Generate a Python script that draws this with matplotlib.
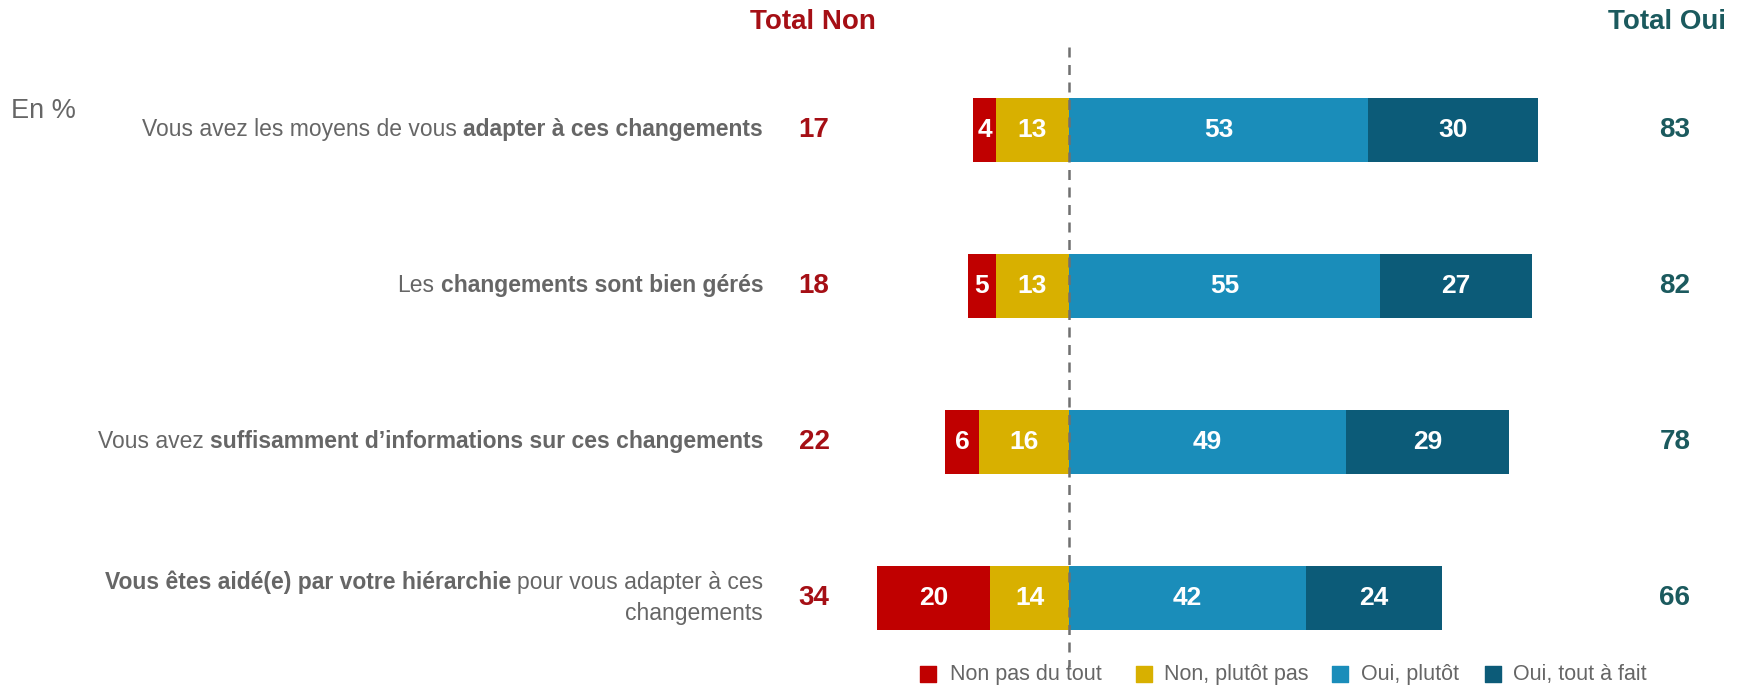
import matplotlib
matplotlib.use("Agg")
import matplotlib.pyplot as plt
import numpy as np

# ---------------- data ----------------
label_parts = [
    [("Vous avez les moyens de vous", False), ("adapter à ces changements", True)],
    [("Les", False), ("changements sont bien gérés", True)],
    [("Vous avez", False), ("suffisamment d\u2019informations sur ces changements", True)],
    [("Vous êtes aidé(e) par votre hiérarchie", True), ("pour vous adapter à ces", False)],
]
label_second_line = ["", "", "", "changements"]
non_pas_du_tout = [4, 5, 6, 20]
non_plutot_pas = [13, 13, 16, 14]
oui_plutot = [53, 55, 49, 42]
oui_tout_a_fait = [30, 27, 29, 24]
total_non = [17, 18, 22, 34]
total_oui = [83, 82, 78, 66]
legend_labels = ["Non pas du tout", "Non, plutôt pas", "Oui, plutôt", "Oui, tout à fait"]

# ---------------- style ----------------
FAM = ["Liberation Sans", "DejaVu Sans"]
plt.rcParams["font.family"] = FAM
C_RED = "#C00000"
C_YEL = "#D8B000"
C_BLUE = "#1A8DBA"
C_DARK = "#0C5B78"
C_GRAY = "#666666"
C_NON = "#A50F15"
C_OUI = "#1B5A5E"

fig = plt.figure(figsize=(17.46, 6.91), dpi=100)
ax = fig.add_axes([0, 0, 1, 1])
ax.set_xlim(-189.4, 119.9)
ax.set_ylim(3.596, -0.833)
ax.axis("off")

y = np.arange(len(non_pas_du_tout))
h = 0.41
npd = np.array(non_pas_du_tout)
npp = np.array(non_plutot_pas)
op = np.array(oui_plutot)
ot = np.array(oui_tout_a_fait)

ax.barh(y, npd, left=-(npd + npp), height=h, color=C_RED, zorder=2)
ax.barh(y, npp, left=-npp, height=h, color=C_YEL, zorder=2)
ax.barh(y, op, left=0, height=h, color=C_BLUE, zorder=2)
ax.barh(y, ot, left=op, height=h, color=C_DARK, zorder=2)

seg_fs = 19
for i in range(len(y)):
    segs = [(-(npd[i] + npp[i]), npd[i]), (-npp[i], npp[i]), (0, op[i]), (op[i], ot[i])]
    for left, w in segs:
        ax.text(left + w / 2, y[i], f"{w}", ha="center", va="center", color="white",
                fontsize=seg_fs, fontweight="bold", zorder=3)
    ax.text(-45.2, y[i], f"{total_non[i]}", ha="center", va="center", color=C_NON,
            fontsize=20, fontweight="bold")
    ax.text(107.3, y[i], f"{total_oui[i]}", ha="center", va="center", color=C_OUI,
            fontsize=20, fontweight="bold")

# center dashed line
ax.plot([0, 0], [-0.53, 3.44], color="#707070", lw=1.8, ls=(0, (4, 3)), zorder=4)

# headers
ax.text(-45.4, -0.69, "Total Non", ha="center", va="center", color=C_NON,
        fontsize=20, fontweight="bold")
ax.text(105.9, -0.69, "Total Oui", ha="center", va="center", color=C_OUI,
        fontsize=20, fontweight="bold")
ax.text(-187.4, -0.12, "En %", ha="left", va="center", color=C_GRAY, fontsize=19.5)

# category labels with mixed bold
lab_fs = 16.5
x_lab = -54.2


def mixed(xr, yy, parts):
    prev = None
    for text, bold in reversed(parts):
        fw = "bold" if bold else "normal"
        if prev is None:
            t = ax.text(xr, yy, text, ha="right", va="center", color=C_GRAY,
                        fontsize=lab_fs, fontweight=fw)
        else:
            t = ax.annotate(text, xy=(0, 0.5), xycoords=prev, xytext=(-4.5, 0),
                            textcoords="offset points", ha="right", va="center",
                            color=C_GRAY, fontsize=lab_fs, fontweight=fw)
        prev = t


for i in range(len(y)):
    if label_second_line[i]:
        mixed(x_lab, y[i] - 0.1, label_parts[i])
        ax.text(x_lab, y[i] + 0.1, label_second_line[i], ha="right", va="center",
                color=C_GRAY, fontsize=lab_fs)
    else:
        mixed(x_lab, y[i], label_parts[i])

# legend
leg_sq_x = [-25.0, 13.2, 47.9, 75.0]
leg_tx_x = [-21.1, 16.8, 51.7, 78.7]
leg_cols = [C_RED, C_YEL, C_BLUE, C_DARK]
for sx, tx, col, lab in zip(leg_sq_x, leg_tx_x, leg_cols, legend_labels):
    ax.scatter([sx], [3.49], marker="s", s=140, color=col, zorder=3)
    ax.text(tx, 3.49, lab, ha="left", va="center", color=C_GRAY, fontsize=15.5)

fig.savefig("out.png", dpi=100, facecolor="white")
